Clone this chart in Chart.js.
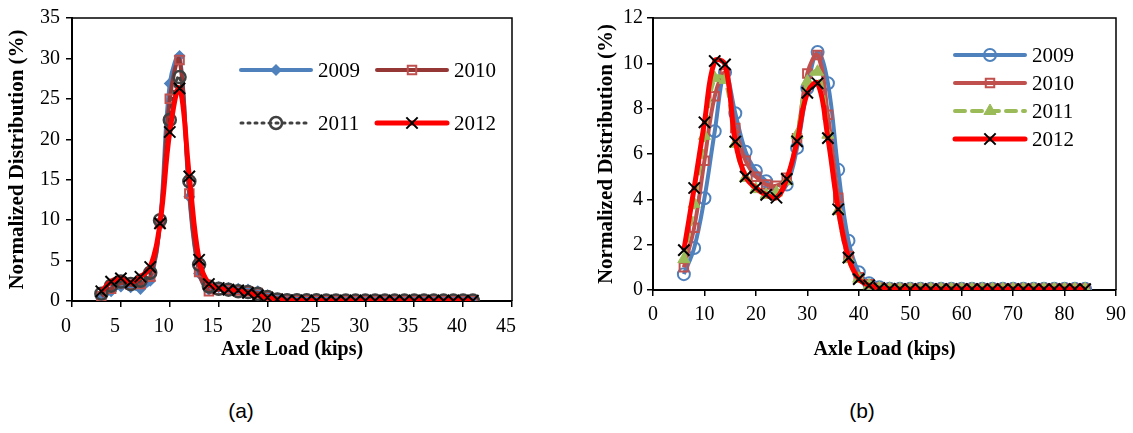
<!DOCTYPE html>
<html>
<head>
<meta charset="utf-8">
<script src="https://cdn.jsdelivr.net/npm/chart.js@4.4.1/dist/chart.umd.min.js"></script>
<style>
  html, body { margin:0; padding:0; background:#fff; }
  body { width:1133px; height:433px; position:relative; overflow:hidden; }
  canvas { position:absolute; top:0; }
  .cap { position:absolute; font-family:"Liberation Sans", Arial, sans-serif; font-size:21px; color:#000; transform:translate(-50%,-50%); white-space:nowrap; }
</style>
</head>
<body>
<canvas id="chartA" width="580" height="365" style="left:0;width:580px;height:365px"></canvas>
<canvas id="chartB" width="548" height="365" style="left:585px;width:548px;height:365px"></canvas>
<div class="cap" style="left:241px;top:411px">(a)</div>
<div class="cap" style="left:862px;top:411px">(b)</div>
<script>
// ---------- Data: (a) single axle loads ----------
const loadsA = [3,4,5,6,7,8,9,10,11,12,13,14,15,16,17,18,19,20,21,22,23,24,25,26,27,28,29,30,31,32,33,34,35,36,37,38,39,40,41];
const a2009 = [0.3,1.2,1.8,1.7,1.5,2.5,9.8,26.9,30.3,12.9,3.4,1.4,1.7,1.6,1.5,1.4,1.2,0.7,0.3,0.12,0.1,0.1,0.08,0.08,0.06,0.06,0.05,0.05,0.05,0.05,0.05,0.05,0.05,0.05,0.05,0.05,0.05,0.05,0.05];
const a2010 = [0.6,1.5,2.2,2.0,2.1,3.0,9.6,25.0,29.8,13.3,3.6,1.2,1.4,1.4,1.3,1.2,1.0,0.6,0.3,0.12,0.1,0.1,0.08,0.08,0.06,0.06,0.05,0.05,0.05,0.05,0.05,0.05,0.05,0.05,0.05,0.05,0.05,0.05,0.05];
const a2011 = [0.9,1.9,2.4,2.1,2.5,3.5,10.0,22.4,27.7,14.8,4.5,1.8,1.5,1.4,1.2,1.1,0.9,0.5,0.2,0.1,0.1,0.08,0.08,0.06,0.06,0.05,0.05,0.05,0.05,0.05,0.05,0.05,0.05,0.05,0.05,0.05,0.05,0.05,0.05];
const a2012 = [1.2,2.4,2.8,2.3,3.0,4.2,9.6,20.9,26.3,15.4,5.1,2.1,1.6,1.4,1.3,1.0,0.7,0.4,0.2,0.08,0.06,0.05,0.05,0.05,0.04,0.04,0.04,0.04,0.04,0.04,0.04,0.04,0.04,0.04,0.04,0.04,0.04,0.04,0.04];
const yTicksA = [0,5,10,15,20,25,30,35];
const xTicksA = [0,5,10,15,20,25,30,35,40,45];

// ---------- Data: (b) tandem axle loads ----------
const loadsB = [6,8,10,12,14,16,18,20,22,24,26,28,30,32,34,36,38,40,42,44,46,48,50,52,54,56,58,60,62,64,66,68,70,72,74,76,78,80,82,84];
const b2009 = [0.7,1.85,4.05,7.0,9.6,7.8,6.1,5.25,4.8,4.35,4.65,6.27,8.9,10.5,9.12,5.3,2.17,0.78,0.3,0.12,0.06,0.05,0.05,0.05,0.05,0.05,0.05,0.05,0.05,0.05,0.05,0.05,0.05,0.05,0.05,0.05,0.05,0.05,0.05,0.05];
const b2010 = [1.0,2.75,5.7,8.55,9.55,7.15,5.7,5.0,4.65,4.6,4.95,6.7,9.55,10.37,7.73,4.07,1.5,0.56,0.25,0.1,0.06,0.05,0.05,0.05,0.05,0.05,0.05,0.05,0.05,0.05,0.05,0.05,0.05,0.05,0.05,0.05,0.05,0.05,0.05,0.05];
const b2011 = [1.36,3.8,6.8,9.35,9.27,6.45,4.95,4.45,4.2,4.3,4.8,6.85,9.2,9.63,6.85,3.48,1.36,0.5,0.2,0.08,0.05,0.04,0.04,0.04,0.04,0.04,0.04,0.04,0.04,0.04,0.04,0.04,0.04,0.04,0.04,0.04,0.04,0.04,0.04,0.04];
const b2012 = [1.76,4.5,7.4,10.1,9.95,6.55,5.0,4.5,4.2,4.07,4.9,6.56,8.7,9.12,6.7,3.56,1.43,0.48,0.2,0.08,0.05,0.04,0.04,0.04,0.04,0.04,0.04,0.04,0.04,0.04,0.04,0.04,0.04,0.04,0.04,0.04,0.04,0.04,0.04,0.04];
const yTicksB = [0,2,4,6,8,10,12];
const xTicksB = [0,10,20,30,40,50,60,70,80,90];

const seriesNames = ['2009','2010','2011','2012'];

// ---------- helpers ----------
const SERIF = '"Liberation Serif", "Times New Roman", serif';
function pts(xs, ys){ return xs.map((x,i)=>({x:x, y:ys[i]})); }

const framePlugin = {
  id: 'frame',
  afterDatasetsDraw(chart) {
    const {ctx, chartArea:a} = chart;
    ctx.save();
    ctx.strokeStyle = '#000'; ctx.lineWidth = 1.5;
    ctx.beginPath();
    ctx.moveTo(a.left, a.top); ctx.lineTo(a.right, a.top); ctx.lineTo(a.right, a.bottom);
    ctx.stroke();
    ctx.restore();
  }
};

const legendPlugin = {
  id: 'customLegend',
  afterDraw(chart, args, opts) {
    const ctx = chart.ctx;
    (opts.items || []).forEach(it => {
      const ds = chart.data.datasets[it.index];
      ctx.save();
      ctx.strokeStyle = ds.borderColor;
      ctx.lineWidth = ds.borderWidth;
      ctx.lineCap = 'round';
      ctx.setLineDash(ds.borderDash || []);
      ctx.beginPath();
      ctx.moveTo(it.x, it.y); ctx.lineTo(it.x + it.len, it.y);
      ctx.stroke();
      ctx.setLineDash([]);
      ctx.lineCap = 'butt';
      ctx.fillStyle = ds.pointBackgroundColor;
      ctx.strokeStyle = ds.pointBorderColor;
      ctx.lineWidth = ds.pointBorderWidth;
      Chart.helpers.drawPoint(ctx, {pointStyle: ds.pointStyle, rotation: 0, radius: ds.pointRadius, borderWidth: ds.pointBorderWidth}, it.x + it.len/2, it.y);
      ctx.fillStyle = '#000';
      ctx.font = '21px ' + SERIF;
      ctx.textBaseline = 'middle';
      ctx.textAlign = 'left';
      ctx.fillText(ds.label, it.x + it.len + 7, it.y + 1);
      ctx.restore();
    });
  }
};

function axisX(min, max, ticks, pad, height, titlePad, labelOffset) {
  return {
    type: 'linear', min: min, max: max,
    afterBuildTicks: s => { s.ticks = ticks.map(v => ({value: v})); },
    afterFit: s => { s.height = height; },
    ticks: { color: '#000', font: {family: SERIF, size: 20}, padding: pad, maxRotation: 0, autoSkip: false, labelOffset: labelOffset },
    grid: { display: true, drawOnChartArea: false, drawTicks: true, tickLength: 6, tickColor: '#000', lineWidth: 1.5 },
    border: { display: true, color: '#000', width: 2 },
    title: { display: true, text: 'Axle Load (kips)', color: '#000', font: {family: SERIF, size: 20, weight: 'bold'}, padding: titlePad }
  };
}
function axisY(min, max, ticks, width, pad, titlePad) {
  return {
    type: 'linear', min: min, max: max,
    afterBuildTicks: s => { s.ticks = ticks.map(v => ({value: v})); },
    afterFit: s => { s.width = width; },
    ticks: { color: '#000', font: {family: SERIF, size: 20}, padding: pad },
    grid: { display: true, drawOnChartArea: false, drawTicks: true, tickLength: 6, tickColor: '#000', lineWidth: 1.5 },
    border: { display: true, color: '#000', width: 2 },
    title: { display: true, text: 'Normalized Distribution (%)', color: '#000', font: {family: SERIF, size: 21, weight: 'bold'}, padding: titlePad }
  };
}

const baseOpts = {
  responsive: false, animation: false,
  events: [],
  elements: { line: { tension: 0.4, capBezierPoints: true } },
};

// ---------- Chart (a) ----------
new Chart(document.getElementById('chartA'), {
  type: 'line',
  data: {
    datasets: [
      { label: seriesNames[0], data: pts(loadsA, a2009), order: 4,
        borderColor: '#4F81BD', borderWidth: 4, pointStyle: 'rectRot', pointRadius: 5,
        pointBackgroundColor: '#4F81BD', pointBorderColor: '#4F81BD', pointBorderWidth: 1.5 },
      { label: seriesNames[1], data: pts(loadsA, a2010), order: 3,
        borderColor: '#953735', borderWidth: 4, pointStyle: 'rect', pointRadius: 6,
        pointBackgroundColor: 'rgba(255,255,255,0)', pointBorderColor: '#C0504D', pointBorderWidth: 2 },
      { label: seriesNames[2], data: pts(loadsA, a2011), order: 2,
        borderColor: '#404040', borderWidth: 3, borderDash: [2,5], borderCapStyle: 'round', pointStyle: 'circle', pointRadius: 6,
        pointBackgroundColor: 'rgba(255,255,255,0)', pointBorderColor: '#404040', pointBorderWidth: 2.5 },
      { label: seriesNames[3], data: pts(loadsA, a2012), order: 1,
        borderColor: '#FF0000', borderWidth: 5, pointStyle: 'crossRot', pointRadius: 8,
        pointBackgroundColor: '#000', pointBorderColor: '#000', pointBorderWidth: 2 }
    ]
  },
  options: Object.assign({}, baseOpts, {
    layout: { padding: { top: 18, right: 68, left: 0, bottom: 0 } },
    scales: {
      x: axisX(0, 45, xTicksA, 8, 64, {top: 0, bottom: 3}, -6),
      y: axisY(0, 35, yTicksA, 72, 6, {top: 5, bottom: 0})
    },
    plugins: {
      legend: { display: false }, tooltip: { enabled: false },
      customLegend: { items: [
        { index: 0, x: 241, y: 70, len: 70 },
        { index: 1, x: 377, y: 70, len: 70 },
        { index: 2, x: 241, y: 123, len: 70 },
        { index: 3, x: 377, y: 123, len: 70 }
      ] }
    }
  }),
  plugins: [framePlugin, legendPlugin]
});

// ---------- Chart (b) ----------
new Chart(document.getElementById('chartB'), {
  type: 'line',
  data: {
    datasets: [
      { label: seriesNames[0], data: pts(loadsB, b2009), order: 4,
        borderColor: '#4F81BD', borderWidth: 4, pointStyle: 'circle', pointRadius: 6,
        pointBackgroundColor: 'rgba(255,255,255,0)', pointBorderColor: '#4F81BD', pointBorderWidth: 2 },
      { label: seriesNames[1], data: pts(loadsB, b2010), order: 3,
        borderColor: '#C0504D', borderWidth: 4, pointStyle: 'rect', pointRadius: 6,
        pointBackgroundColor: 'rgba(255,255,255,0)', pointBorderColor: '#C0504D', pointBorderWidth: 2 },
      { label: seriesNames[2], data: pts(loadsB, b2011), order: 2,
        borderColor: '#9BBB59', borderWidth: 4, borderDash: [10,7], pointStyle: 'triangle', pointRadius: 7,
        pointBackgroundColor: '#9BBB59', pointBorderColor: '#9BBB59', pointBorderWidth: 1 },
      { label: seriesNames[3], data: pts(loadsB, b2012), order: 1,
        borderColor: '#FF0000', borderWidth: 5, pointStyle: 'crossRot', pointRadius: 8,
        pointBackgroundColor: '#000', pointBorderColor: '#000', pointBorderWidth: 2 }
    ]
  },
  options: Object.assign({}, baseOpts, {
    layout: { padding: { top: 18, right: 15, left: 0, bottom: 0 } },
    scales: {
      x: axisX(0, 90, xTicksB, 7, 75, {top: 0, bottom: 3}, 0),
      y: axisY(0, 12, yTicksB, 68, 4, {top: 9, bottom: 0})
    },
    plugins: {
      legend: { display: false }, tooltip: { enabled: false },
      customLegend: { items: [
        { index: 0, x: 370, y: 55, len: 70 },
        { index: 1, x: 370, y: 83, len: 70 },
        { index: 2, x: 370, y: 111, len: 70 },
        { index: 3, x: 370, y: 139, len: 70 }
      ] }
    }
  }),
  plugins: [framePlugin, legendPlugin]
});
</script>
</body>
</html>
